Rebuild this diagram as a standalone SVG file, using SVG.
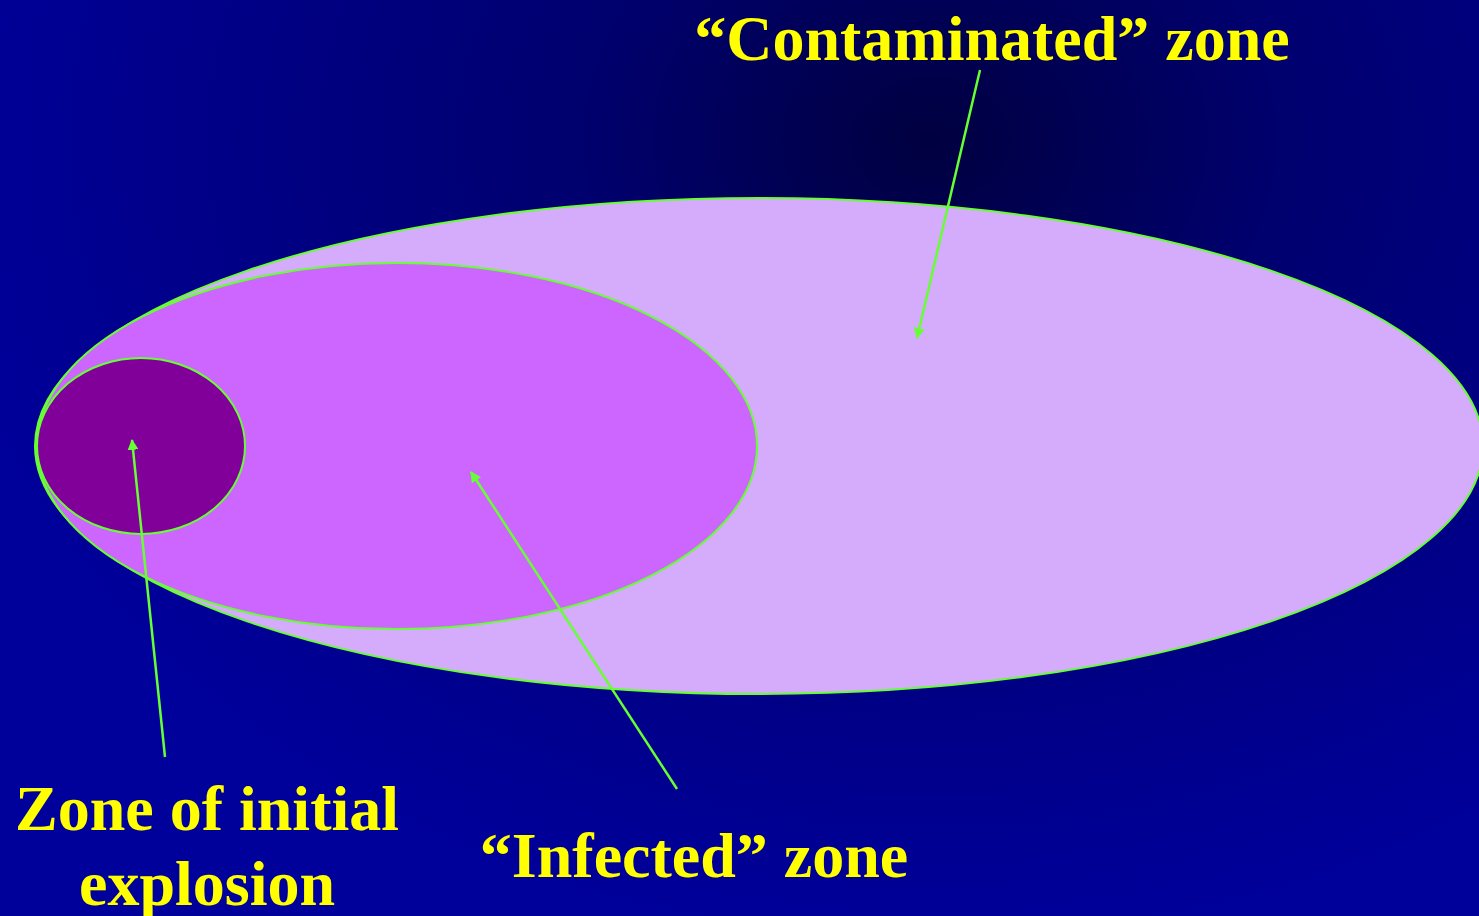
<svg xmlns="http://www.w3.org/2000/svg" width="1479" height="916" viewBox="0 0 1479 916">
<defs>
<radialGradient id="bg" gradientUnits="userSpaceOnUse" cx="930" cy="140" r="1000" gradientTransform="translate(930 140) scale(1 0.8) translate(-930 -140)">
<stop offset="0" stop-color="#000040"/>
<stop offset="0.35" stop-color="#00006e"/>
<stop offset="1" stop-color="#00009a"/>
</radialGradient>
<marker id="ah" viewBox="0 0 10 10" refX="9" refY="5" markerWidth="4.4" markerHeight="4.4" orient="auto" markerUnits="strokeWidth">
<path d="M0,0 L10,5 L0,10 z" fill="#66FF33"/>
</marker>
<style>
.zone{stroke:#66FF33;stroke-width:2}
.lbl{font-family:"Liberation Serif","Times New Roman",serif;font-weight:bold;fill:#FFFF00;font-size:64px;text-anchor:middle}
.con{stroke:#66FF33;stroke-width:2.5;fill:none;marker-end:url(#ah)}
</style>
</defs>
<rect width="1479" height="916" fill="url(#bg)"/>
<g id="contaminated-zone">
<ellipse class="zone" cx="759" cy="446" rx="724" ry="248" fill="#D5ABFC"/>
</g>
<g id="infected-zone">
<ellipse class="zone" cx="397" cy="446" rx="360" ry="183" fill="#CC66FF"/>
</g>
<g id="initial-zone">
<ellipse class="zone" cx="141" cy="446" rx="104" ry="88" fill="#800099"/>
</g>
<g id="connectors">
<line class="con" x1="980" y1="70" x2="917" y2="338"/>
<line class="con" x1="165" y1="757" x2="132" y2="440"/>
<line class="con" x1="677" y1="789" x2="471" y2="472"/>
</g>
<g id="labels">
<text class="lbl" x="992" y="60">“Contaminated” zone</text>
<text class="lbl" x="207" y="830">Zone of initial</text>
<text class="lbl" x="207" y="905">explosion</text>
<text class="lbl" x="694" y="877">“Infected” zone</text>
</g>
</svg>
